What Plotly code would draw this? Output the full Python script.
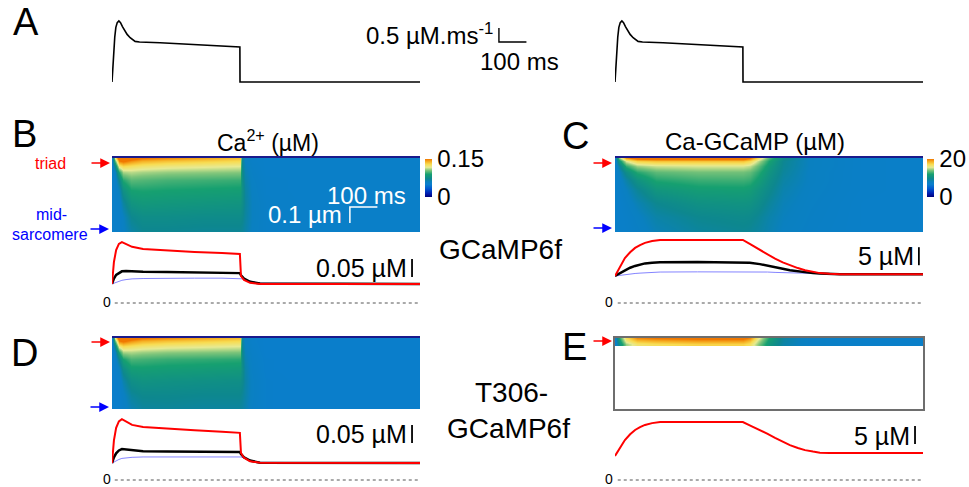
import plotly.graph_objects as go

W, H = 969, 487
FONT = "Liberation Sans, Arial, Helvetica, sans-serif"

# ---------------- data ----------------
# Panel A: Ca release flux (µM/ms) vs time (ms)
flux_t = [0, 3, 6, 10, 14, 19, 25, 31, 38, 46, 55, 66, 84, 100, 130, 175, 465, 465.5, 1120]
flux_v = [0, 0.5, 1.1, 1.6, 1.95, 2.12, 2.18, 2.12, 1.98, 1.83, 1.7, 1.58, 1.45, 1.43, 1.42, 1.40, 1.25, 0, 0]

# Panels B / D line traces (µM): triad (red), average (black), mid-sarcomere (blue)
ca_t = [0, 7, 15, 25, 36, 51, 73, 113, 200, 300, 400, 465, 469, 480, 502, 538, 1120]
ca_b_triad = [0.053, 0.114, 0.147, 0.164, 0.169, 0.164, 0.156, 0.150, 0.146, 0.142, 0.139, 0.136, 0.075, 0.064, 0.056, 0.053, 0.053]
ca_b_mean = [0.053, 0.068, 0.078, 0.084, 0.088, 0.089, 0.088, 0.087, 0.086, 0.085, 0.084, 0.083, 0.077, 0.068, 0.059, 0.054, 0.053]
ca_b_mid = [0.053, 0.055, 0.058, 0.061, 0.063, 0.065, 0.067, 0.068, 0.069, 0.069, 0.069, 0.069, 0.069, 0.067, 0.061, 0.055, 0.053]
ca_d_triad = [0.047, 0.110, 0.145, 0.163, 0.169, 0.163, 0.153, 0.147, 0.142, 0.138, 0.134, 0.131, 0.075, 0.062, 0.052, 0.048, 0.047]
ca_d_mean = [0.047, 0.063, 0.074, 0.082, 0.086, 0.085, 0.082, 0.080, 0.079, 0.078, 0.078, 0.078, 0.072, 0.063, 0.054, 0.048, 0.047]
ca_d_mid = [0.047, 0.050, 0.054, 0.057, 0.060, 0.062, 0.063, 0.064, 0.064, 0.064, 0.064, 0.064, 0.064, 0.061, 0.055, 0.049, 0.047]

# Panels C / E line traces (µM Ca-GCaMP)
gc_t = [0, 18, 36, 55, 73, 91, 109, 135, 164, 300, 465, 490, 527, 555, 582, 610, 636, 665, 691, 720, 745, 780, 818, 1120]
gc_c_triad = [7.5, 10.2, 12.5, 14.1, 15.3, 16.1, 16.7, 17.2, 17.5, 17.5, 17.5, 16.4, 14.8, 13.4, 12.3, 11.3, 10.5, 9.7, 9.1, 8.6, 8.3, 8.1, 8.0, 8.0]
gc_c_mean = [7.5, 8.3, 9.1, 9.8, 10.3, 10.7, 11.0, 11.2, 11.3, 11.4, 11.4, 11.2, 10.8, 10.3, 9.9, 9.5, 9.1, 8.8, 8.5, 8.3, 8.2, 8.05, 8.0, 8.0]
gc_c_mid = [7.5, 7.7, 7.9, 8.1, 8.2, 8.3, 8.4, 8.5, 8.6, 8.65, 8.7, 8.7, 8.65, 8.6, 8.5, 8.45, 8.4, 8.3, 8.25, 8.2, 8.1, 8.05, 8.0, 8.0]
gc_e_triad = [6.7, 9.0, 11.1, 12.7, 13.9, 14.7, 15.3, 15.8, 16.1, 16.1, 16.1, 15.2, 13.9, 12.8, 11.7, 10.6, 9.7, 8.9, 8.3, 7.9, 7.6, 7.5, 7.5, 7.5]

# Heatmaps: depth from triad (µm) x time (ms)
hm_depth = [0, 0.02, 0.05, 0.09, 0.14, 0.2, 0.28, 0.37, 0.46]
hm_ca_t = [0, 10, 25, 40, 70, 110, 200, 330, 465, 472, 485, 510, 560, 700, 1120]
hm_ca_b = [
    [0.053, 0.120, 0.165, 0.168, 0.158, 0.150, 0.146, 0.141, 0.136, 0.070, 0.060, 0.055, 0.053, 0.053, 0.053],
    [0.053, 0.100, 0.148, 0.152, 0.145, 0.139, 0.135, 0.132, 0.129, 0.070, 0.060, 0.055, 0.053, 0.053, 0.053],
    [0.053, 0.075, 0.122, 0.130, 0.127, 0.124, 0.121, 0.119, 0.117, 0.072, 0.062, 0.056, 0.053, 0.053, 0.053],
    [0.053, 0.060, 0.092, 0.110, 0.112, 0.110, 0.108, 0.107, 0.106, 0.075, 0.064, 0.057, 0.053, 0.053, 0.053],
    [0.053, 0.055, 0.073, 0.092, 0.100, 0.099, 0.097, 0.096, 0.095, 0.077, 0.066, 0.058, 0.054, 0.053, 0.053],
    [0.053, 0.054, 0.062, 0.079, 0.090, 0.091, 0.090, 0.089, 0.088, 0.079, 0.068, 0.059, 0.054, 0.053, 0.053],
    [0.053, 0.053, 0.056, 0.068, 0.081, 0.084, 0.083, 0.082, 0.081, 0.077, 0.069, 0.060, 0.055, 0.053, 0.053],
    [0.053, 0.053, 0.054, 0.060, 0.072, 0.076, 0.076, 0.075, 0.075, 0.073, 0.068, 0.060, 0.055, 0.053, 0.053],
    [0.053, 0.053, 0.054, 0.058, 0.066, 0.071, 0.071, 0.070, 0.070, 0.069, 0.066, 0.059, 0.055, 0.053, 0.053],
]
hm_ca_d = [
    [0.050, 0.120, 0.165, 0.168, 0.158, 0.150, 0.146, 0.141, 0.136, 0.068, 0.058, 0.053, 0.050, 0.050, 0.050],
    [0.050, 0.100, 0.148, 0.152, 0.145, 0.139, 0.135, 0.132, 0.129, 0.068, 0.058, 0.053, 0.050, 0.050, 0.050],
    [0.050, 0.075, 0.122, 0.130, 0.127, 0.124, 0.121, 0.119, 0.117, 0.070, 0.060, 0.054, 0.050, 0.050, 0.050],
    [0.050, 0.060, 0.092, 0.110, 0.111, 0.109, 0.107, 0.106, 0.105, 0.073, 0.062, 0.055, 0.050, 0.050, 0.050],
    [0.050, 0.054, 0.073, 0.090, 0.098, 0.097, 0.095, 0.094, 0.093, 0.075, 0.064, 0.056, 0.051, 0.050, 0.050],
    [0.050, 0.052, 0.060, 0.076, 0.087, 0.088, 0.087, 0.086, 0.085, 0.077, 0.066, 0.057, 0.051, 0.050, 0.050],
    [0.050, 0.050, 0.054, 0.065, 0.077, 0.080, 0.079, 0.078, 0.077, 0.074, 0.067, 0.058, 0.052, 0.050, 0.050],
    [0.050, 0.050, 0.052, 0.058, 0.069, 0.073, 0.073, 0.072, 0.072, 0.070, 0.066, 0.058, 0.052, 0.050, 0.050],
    [0.050, 0.050, 0.051, 0.055, 0.063, 0.068, 0.069, 0.068, 0.068, 0.067, 0.064, 0.057, 0.052, 0.050, 0.050],
]
hm_gc_t = [0, 15, 40, 80, 150, 300, 465, 490, 520, 560, 610, 710, 900, 1120]
hm_gc_c = [
    [7.0, 14.0, 19.0, 21.0, 21.5, 21.5, 21.5, 20.0, 17.0, 13.0, 10.0, 8.0, 7.2, 7.0],
    [7.0, 11.0, 15.5, 17.5, 18.0, 18.0, 18.0, 17.2, 15.0, 12.0, 9.5, 8.0, 7.2, 7.0],
    [7.0, 9.0, 12.5, 14.5, 15.2, 15.4, 15.4, 15.0, 13.5, 11.3, 9.4, 8.0, 7.2, 7.0],
    [7.0, 8.0, 10.2, 12.3, 13.4, 13.8, 13.8, 13.5, 12.5, 10.8, 9.2, 7.9, 7.2, 7.0],
    [7.0, 7.5, 8.8, 10.6, 12.2, 12.7, 12.8, 12.6, 11.7, 10.3, 8.9, 7.9, 7.2, 7.0],
    [7.0, 7.2, 8.0, 9.3, 10.9, 11.6, 11.7, 11.5, 10.8, 9.8, 8.6, 7.8, 7.2, 7.0],
    [7.0, 7.0, 7.5, 8.4, 9.6, 10.5, 10.7, 10.6, 10.1, 9.2, 8.3, 7.7, 7.1, 7.0],
    [7.0, 7.0, 7.2, 7.8, 8.8, 9.6, 9.9, 9.8, 9.4, 8.7, 8.1, 7.6, 7.1, 7.0],
    [7.0, 7.0, 7.1, 7.5, 8.3, 9.1, 9.4, 9.3, 9.0, 8.5, 7.9, 7.5, 7.1, 7.0],
]
hm_e_depth = [0, 0.02, 0.04]
hm_gc_e = [
    [7.0, 12.0, 17.0, 19.5, 20.0, 20.5, 20.5, 19.5, 16.0, 12.0, 9.0, 7.5, 7.0, 7.0],
    [7.0, 11.0, 16.0, 18.0, 18.5, 19.0, 19.0, 18.0, 15.0, 11.5, 9.0, 7.5, 7.0, 7.0],
    [7.0, 10.0, 14.5, 16.5, 17.0, 17.5, 17.5, 16.8, 14.2, 11.0, 8.8, 7.5, 7.0, 7.0],
]

# ---------------- geometry helpers ----------------
PX_PER_MS = 0.275
T_MAX = 308 / PX_PER_MS


def xd(x0, x1):
    return [x0 / W, x1 / W]


def yd(top, bottom):
    return [1 - bottom / H, 1 - top / H]


def px(x):
    return x / W


def py(y):
    return 1 - y / H


COLORSCALE = [
    [0.0, "#00007a"], [0.1, "#0020b4"], [0.22, "#0058cf"], [0.33, "#0a7ecc"],
    [0.4, "#0a80c0"], [0.48, "#0d878f"], [0.6, "#16a070"], [0.7, "#7cc47a"],
    [0.78, "#e6ea92"], [0.86, "#f8dc52"], [0.93, "#f6b024"], [1.0, "#f07800"],
]

fig = go.Figure()

RED, BLACK, BLUE = "#ff0000", "#000000", "#8484ff"


def line(x, y, ax, color, width, dash=None):
    fig.add_trace(go.Scatter(x=x, y=y, mode="lines", xaxis="x" + ax, yaxis="y" + ax,
                             line=dict(color=color, width=width, dash=dash),
                             hoverinfo="skip", showlegend=False))


# Panel A
line(flux_t, flux_v, "", BLACK, 1.6)
line(flux_t, flux_v, "2", BLACK, 1.6)
# A scale bar (100 ms, 0.5 µM/ms)
sbA_t, sbA_v = 1407, 1.43
line([sbA_t, sbA_t, sbA_t + 100], [sbA_v + 0.5, sbA_v, sbA_v], "", BLACK, 1.4)


def heat(z, t, d, ax, zmax, cb=None):
    fig.add_trace(go.Heatmap(z=z, x=t, y=d, xaxis="x" + ax, yaxis="y" + ax,
                             colorscale=COLORSCALE, zmin=0, zmax=zmax, zsmooth="best",
                             showscale=cb is not None, colorbar=cb, hoverinfo="skip"))


def cbar(x, top, maxlabel, zmax):
    return dict(x=px(x), xanchor="left", y=py(top), yanchor="top", len=38, lenmode="pixels",
                thickness=7, thicknessmode="pixels", outlinewidth=0, xpad=0, ypad=0,
                tickvals=[0, zmax], ticktext=["0", maxlabel], ticks="",
                tickfont=dict(size=24, family=FONT, color="black"))


heat(hm_ca_b, hm_ca_t, hm_depth, "3", 0.15, cbar(425, 159, "0.15", 0.15))
heat(hm_gc_c, hm_gc_t, hm_depth, "5", 20, cbar(927, 159, "20", 20))
heat(hm_ca_d, hm_ca_t, hm_depth, "7", 0.15)
heat(hm_gc_e, hm_gc_t, hm_e_depth, "9", 20)

# B heatmap scale bar (100 ms, 0.1 µm)
sbB_t, sbB_d = 865, 0.306
line([sbB_t + 100, sbB_t, sbB_t], [sbB_d, sbB_d, sbB_d + 0.1], "3", "white", 1.5)

# trace panels
zero_t = [10, T_MAX]
for ax, tr, me, mi, bar_t, bar_v, bar_len in [
        ("4", ca_b_triad, ca_b_mean, ca_b_mid, 1091, 0.072, 0.05),
        ("8", ca_d_triad, ca_d_mean, ca_d_mid, 1091, 0.103, 0.05)]:
    line(zero_t, [0, 0], ax, "#555555", 1, "dot")
    line(ca_t, mi, ax, BLUE, 1)
    line(ca_t, me, ax, BLACK, 2.5)
    line(ca_t, tr, ax, RED, 2)
    line([bar_t, bar_t], [bar_v, bar_v + bar_len], ax, BLACK, 1.8)

line(zero_t, [0, 0], "6", "#555555", 1, "dot")
line(gc_t, gc_c_mid, "6", BLUE, 1)
line(gc_t, gc_c_mean, "6", BLACK, 2.5)
line(gc_t, gc_c_triad, "6", RED, 2)
line([1105, 1105], [10.5, 15.5], "6", BLACK, 1.8)

line(zero_t, [0, 0], "10", "#555555", 1, "dot")
line(gc_t, gc_e_triad, "10", RED, 2)
line([1091, 1091], [10.0, 15.0], "10", BLACK, 1.8)


# ---------------- axes ----------------
def plain(domain, rng, anchor, **kw):
    d = dict(domain=domain, range=rng, anchor=anchor, showgrid=False, zeroline=False,
             showticklabels=False, ticks="", showline=False, fixedrange=True)
    d.update(kw)
    return d


A_ZERO, A_SCALE = 82, 28.0
a_rng = [(A_ZERO - 86) / A_SCALE, (A_ZERO - 18) / A_SCALE]
CA_SCALE, GC_SCALE = 360.0, 3.6
NAVY = "#1a1a8c"

layout_axes = {
    "xaxis": plain(xd(112, 560), [0, (560 - 112) / PX_PER_MS], "y"),
    "yaxis": plain(yd(18, 86), a_rng, "x"),
    "xaxis2": plain(xd(615, 946), [0, (946 - 615) / PX_PER_MS], "y2"),
    "yaxis2": plain(yd(18, 86), a_rng, "x2"),
    # B heatmap
    "xaxis3": plain(xd(112, 420), [0, T_MAX], "y3", side="top", showline=True, linecolor=NAVY, linewidth=2),
    "yaxis3": plain(yd(158, 232), [0.4625, 0], "x3"),
    # B traces
    "xaxis4": plain(xd(112, 420), [0, T_MAX], "y4"),
    "yaxis4": plain(yd(238, 306), [(303 - 306) / CA_SCALE, (303 - 238) / CA_SCALE], "x4"),
    # C heatmap
    "xaxis5": plain(xd(615, 923), [0, T_MAX], "y5", side="top", showline=True, linecolor=NAVY, linewidth=2),
    "yaxis5": plain(yd(158, 232), [0.4625, 0], "x5"),
    # C traces
    "xaxis6": plain(xd(615, 923), [0, T_MAX], "y6"),
    "yaxis6": plain(yd(236, 306), [(303 - 306) / GC_SCALE, (303 - 236) / GC_SCALE], "x6"),
    # D heatmap
    "xaxis7": plain(xd(112, 420), [0, T_MAX], "y7", side="top", showline=True, linecolor=NAVY, linewidth=2),
    "yaxis7": plain(yd(338, 409), [0.4625, 0], "x7"),
    # D traces
    "xaxis8": plain(xd(112, 420), [0, T_MAX], "y8"),
    "yaxis8": plain(yd(415, 483), [(480 - 483) / CA_SCALE, (480 - 415) / CA_SCALE], "x8"),
    # E heatmap (box)
    "xaxis9": plain(xd(615, 923), [0, T_MAX], "y9", showline=True, mirror=True, linecolor="#6e6e6e", linewidth=1.5),
    "yaxis9": plain(yd(338, 409), [0.4625, 0], "x9", showline=True, mirror=True, linecolor="#6e6e6e", linewidth=1.5),
    # E traces
    "xaxis10": plain(xd(615, 923), [0, T_MAX], "y10"),
    "yaxis10": plain(yd(413, 483), [(480 - 483) / GC_SCALE, (480 - 413) / GC_SCALE], "x10"),
}

# ---------------- annotations ----------------
anns = []


def ann(text, x, y, size, color="black", xanchor="center"):
    anns.append(dict(text=text, x=px(x), y=py(y), xref="paper", yref="paper", showarrow=False,
                     xanchor=xanchor, yanchor="middle", font=dict(size=size, color=color, family=FONT)))


def arrow(xh, y, color):
    anns.append(dict(text="", x=px(xh), y=py(y), xref="paper", yref="paper", showarrow=True,
                     ax=-20, ay=0, arrowhead=2, arrowsize=1.3, arrowwidth=1.5, arrowcolor=color, standoff=0))


ann("A", 26, 22, 38)
ann("0.5 µM.ms<sup>-1</sup>", 495, 34, 24, xanchor="right")
ann("100 ms", 478, 61, 24, xanchor="left")

ann("B", 24, 134, 38)
ann("Ca<sup>2+</sup> (µM)", 268, 141, 23)
ann("triad", 50, 163, 16, "red")
ann("mid-", 51, 215, 16, "blue")
ann("sarcomere", 50, 234, 16, "blue")
arrow(110, 163, "red")
arrow(109, 229, "blue")
ann("100 ms", 408, 195, 24, "white", xanchor="right")
ann("0.1 µm", 344, 215, 24, "white", xanchor="right")
ann("0.05 µM", 409, 268, 25, xanchor="right")
ann("0", 107, 302, 14)
ann("GCaMP6f", 500, 249, 28)

ann("C", 575, 136, 38)
ann("Ca-GCaMP (µM)", 755, 141, 24)
arrow(612, 163, "red")
arrow(612, 228, "blue")
ann("5 µM", 916, 256, 25, xanchor="right")
ann("0", 609, 302, 14)

ann("D", 24, 353, 38)
arrow(110, 342, "red")
arrow(109, 407, "blue")
ann("0.05 µM", 409, 434, 25, xanchor="right")
ann("0", 107, 479, 14)
ann("T306-", 511, 392, 28)
ann("GCaMP6f", 508, 428, 28)

ann("E", 574, 347, 38)
arrow(612, 341, "red")
ann("5 µM", 912, 436, 25, xanchor="right")
ann("0", 609, 479, 14)

fig.update_layout(width=W, height=H, margin=dict(l=0, r=0, t=0, b=0),
                  paper_bgcolor="white", plot_bgcolor="rgba(0,0,0,0)",
                  showlegend=False, annotations=anns, font=dict(family=FONT),
                  **layout_axes)

fig.write_html("out.html", config={"displayModeBar": False},
               post_script="document.body.style.margin='0px';document.body.style.overflow='hidden';")
